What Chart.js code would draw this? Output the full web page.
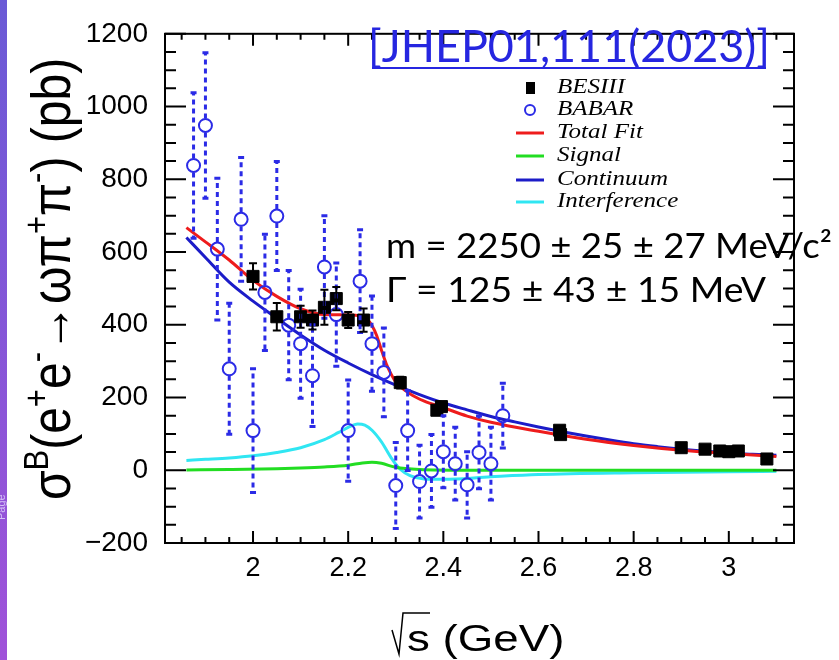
<!DOCTYPE html>
<html>
<head>
<meta charset="utf-8">
<script src="https://cdn.jsdelivr.net/npm/chart.js@4.4.1/dist/chart.umd.min.js"></script>
<style>
  html, body { margin: 0; padding: 0; background: #fff; }
  #wrap { width: 839px; height: 660px; }
</style>
</head>
<body>
<div id="wrap"><canvas id="xsChart" width="839" height="660"></canvas></div>
<script>
// BESIII points (sqrt(s) in GeV, cross section in pb)
const besX = [2.0, 2.05, 2.1, 2.125, 2.15, 2.175, 2.2, 2.2324, 2.3094, 2.3864, 2.396, 2.6444, 2.6464, 2.9, 2.95, 2.981, 3.0, 3.02, 3.08]
const besY = [533, 422, 422, 413, 448, 472, 413, 413, 241, 165, 175, 110, 98, 62, 58, 53, 51, 53, 31]
const besErr = [36, 38, 30, 26, 48, 32, 22, 32, 16, 12, 12, 12, 12, 7, 7, 6, 6, 6, 6]

// BABAR points
const babarX = [1.875, 1.9, 1.925, 1.95, 1.975, 2.0, 2.025, 2.05, 2.075, 2.1, 2.125, 2.15, 2.175, 2.2,
  2.225, 2.25, 2.275, 2.3, 2.325, 2.35, 2.375, 2.4, 2.425, 2.45, 2.475, 2.5, 2.525]
const babarY = [838, 948, 608, 279, 690, 109, 489, 699, 399, 348, 260, 559, 428, 109,
  520, 348, 269, -42, 109, -31, -2, 51, 18, -40, 49, 18, 150]
const babarErr = [200, 200, 195, 180, 170, 170, 160, 150, 150, 150, 140, 141, 142, 139,
  141, 131, 122, 118, 110, 100, 100, 99, 100, 91, 100, 100, 89]

// fit curves
const fitX = [1.86, 1.9, 1.95, 2.0, 2.05, 2.1, 2.15, 2.2, 2.225, 2.24, 2.25, 2.26, 2.27, 2.28, 2.29, 2.3,
  2.33, 2.36, 2.4, 2.45, 2.5, 2.6, 2.7, 2.8, 2.9, 3.0, 3.1]
const totalFit = [667, 628, 578, 522, 478, 444, 428, 427, 424, 415, 398, 370, 330, 293, 265, 243,
  210, 190, 172, 149, 132, 107, 85, 68, 55, 46, 38]

const contX = [1.86, 1.9, 1.95, 2.0, 2.05, 2.1, 2.15, 2.2, 2.25, 2.3, 2.35, 2.4, 2.45, 2.5, 2.55,
  2.6, 2.65, 2.7, 2.75, 2.8, 2.85, 2.9, 2.95, 3.0, 3.05, 3.1]
const continuum = [640, 585, 517, 465, 418, 372, 330, 295, 263, 234, 208, 185, 166, 148, 133,
  119, 106, 94, 83, 73, 65, 58, 52, 47, 44, 41]

const sigX = [1.86, 1.95, 2.05, 2.1, 2.15, 2.2, 2.23, 2.25, 2.27, 2.3, 2.35, 2.45, 2.6, 2.8, 3.1]
const signal = [1, 2, 4, 6, 9, 14, 20, 22, 19, 8, 2, 0, 0, 0, 0]

const intX = [1.86, 1.9, 1.95, 2.0, 2.05, 2.1, 2.15, 2.18, 2.2, 2.22, 2.235, 2.25, 2.27, 2.29, 2.31,
  2.33, 2.36, 2.4, 2.5, 2.6, 2.8, 3.0, 3.1]
const interference = [27, 30, 34, 40, 49, 62, 84, 104, 118, 127, 124, 110, 78, 35, 2,
  -15, -24, -25, -18, -12, -7, -4, -3]

// axis ticks
const xTicks = [2, 2.2, 2.4, 2.6, 2.8, 3]
const yTicks = [-200, 0, 200, 400, 600, 800, 1000, 1200]

function pts(xs, ys) {
  return xs.map((x, i) => ({ x: x, y: ys[i] }))
}

function curve(label, xs, ys, color) {
  return {
    label: label,
    data: pts(xs, ys),
    showLine: true,
    borderColor: color,
    borderWidth: 3,
    pointRadius: 0,
    cubicInterpolationMode: "monotone",
    fill: false,
  }
}

const BLUE_PT = "#2b2be6"

// error bars, frame, ticks and all the text
const decorations = {
  id: "decorations",
  beforeDraw(chart) {
    const ctx = chart.ctx
    ctx.save()
    ctx.fillStyle = "#fff"
    ctx.fillRect(0, 0, chart.width, chart.height)
    const g = ctx.createLinearGradient(0, 0, 0, chart.height)
    g.addColorStop(0, "#6a5ad6")
    g.addColorStop(1, "#a052d9")
    ctx.fillStyle = g
    ctx.fillRect(0, 0, 7, chart.height)
    ctx.translate(5, 520)
    ctx.rotate(-Math.PI / 2)
    ctx.fillStyle = "rgba(230,220,255,0.8)"
    ctx.font = "11px 'Liberation Sans'"
    ctx.fillText("Page", 0, 0)
    ctx.restore()
  },
  afterDatasetsDraw(chart) {
    const ctx = chart.ctx
    const xs = chart.scales.x, ys = chart.scales.y
    ctx.save()
    // BABAR dashed error bars
    ctx.strokeStyle = BLUE_PT
    ctx.lineWidth = 3
    babarX.forEach((v, i) => {
      const px = xs.getPixelForValue(v)
      const py = ys.getPixelForValue(babarY[i])
      const top = ys.getPixelForValue(babarY[i] + babarErr[i])
      const bot = ys.getPixelForValue(babarY[i] - babarErr[i])
      ctx.setLineDash([5, 4])
      ctx.beginPath()
      ctx.moveTo(px, py - 7)
      ctx.lineTo(px, top)
      ctx.moveTo(px, py + 7)
      ctx.lineTo(px, bot)
      ctx.stroke()
      ctx.setLineDash([])
      ctx.beginPath()
      ctx.moveTo(px - 3, top)
      ctx.lineTo(px + 3, top)
      ctx.moveTo(px - 3, bot)
      ctx.lineTo(px + 3, bot)
      ctx.stroke()
    })
    // BESIII error bars
    ctx.strokeStyle = "#000"
    ctx.lineWidth = 2
    besX.forEach((v, i) => {
      const px = xs.getPixelForValue(v)
      const top = ys.getPixelForValue(besY[i] + besErr[i])
      const bot = ys.getPixelForValue(besY[i] - besErr[i])
      ctx.beginPath()
      ctx.moveTo(px, top)
      ctx.lineTo(px, bot)
      ctx.moveTo(px - 4, top)
      ctx.lineTo(px + 4, top)
      ctx.moveTo(px - 4, bot)
      ctx.lineTo(px + 4, bot)
      ctx.stroke()
    })
    ctx.restore()
  },
  afterDraw(chart) {
    const ctx = chart.ctx
    const a = chart.chartArea
    const xs = chart.scales.x, ys = chart.scales.y
    ctx.save()

    // frame
    ctx.strokeStyle = "#000"
    ctx.lineWidth = 2
    ctx.strokeRect(a.left, a.top, a.right - a.left, a.bottom - a.top)

    // inward ticks on all four sides
    ctx.lineWidth = 2
    ctx.beginPath()
    for (let v = -200; v <= 1200; v += 50) {
      const py = ys.getPixelForValue(v)
      const len = v % 200 === 0 ? 21 : 11
      ctx.moveTo(a.left, py); ctx.lineTo(a.left + len, py)
      ctx.moveTo(a.right, py); ctx.lineTo(a.right - len, py)
    }
    for (let k = 37; k <= 62; k++) {
      const v = k * 0.05
      const px = xs.getPixelForValue(v)
      const len = k % 4 === 0 ? 12 : 6
      ctx.moveTo(px, a.bottom); ctx.lineTo(px, a.bottom - len)
      ctx.moveTo(px, a.top); ctx.lineTo(px, a.top + len)
    }
    ctx.stroke()

    // y axis title
    ctx.save()
    ctx.translate(70, 279)
    ctx.rotate(-Math.PI / 2)
    ctx.scale(1, 1.15)
    const big = 48, small = 31
    const parts = [["σ", 0], ["B", 1], ["(e", 0], ["+", 1], ["e", 0], ["-", 1], ["→ωπ", 0], ["+", 1],
      ["π", 0], ["-", 1], [") (pb)", 0]]
    let total = 0
    parts.forEach(p => {
      ctx.font = (p[1] ? small : big) + "px 'Liberation Sans'"
      total += ctx.measureText(p[0]).width
    })
    let cx = -total / 2
    ctx.fillStyle = "#000"
    ctx.textBaseline = "alphabetic"
    parts.forEach(p => {
      ctx.font = (p[1] ? small : big) + "px 'Liberation Sans'"
      ctx.fillText(p[0], cx, p[1] ? -19 : 0)
      cx += ctx.measureText(p[0]).width
    })
    ctx.restore()

    // x axis title with radical sign
    ctx.save()
    ctx.strokeStyle = "#000"
    ctx.lineWidth = 1.5
    ctx.beginPath()
    ctx.moveTo(392, 630)
    ctx.lineTo(399, 654)
    ctx.lineTo(403, 613)
    ctx.lineTo(430, 613)
    ctx.stroke()
    ctx.translate(407, 651)
    ctx.scale(1.27, 1)
    ctx.font = "36px 'Liberation Sans'"
    ctx.fillStyle = "#000"
    ctx.fillText("s (GeV)", 0, 0)
    ctx.restore()

    function fitText(str, x, y, w) {
      const m = ctx.measureText(str).width
      ctx.save()
      ctx.translate(x, y)
      ctx.scale(w / m, 1)
      ctx.fillText(str, 0, 0)
      ctx.restore()
    }

    // reference tag
    ctx.fillStyle = "#2626e0"
    ctx.font = "44px Lato"
    ctx.textBaseline = "alphabetic"
    fitText("[JHEP01,111(2023)]", 368, 62, 402)
    ctx.fillRect(372, 67, 394, 2)

    // fit results
    ctx.fillStyle = "#000"
    ctx.font = "34px Lato"
    fitText("m = 2250 ± 25 ± 27 MeV/c²", 386, 258, 446)
    fitText("Γ = 125 ± 43 ± 15 MeV", 386, 302, 380)

    // legend
    const rowY = [88, 110, 133, 156, 180, 202]
    const ds = chart.data.datasets
    ctx.font = "italic 20px 'Liberation Serif'"
    ctx.textBaseline = "middle"
    ds.forEach((d, r) => {
      const y = rowY[r]
      if (d.showLine) {
        ctx.strokeStyle = d.borderColor
        ctx.lineWidth = 3
        ctx.beginPath()
        ctx.moveTo(516, y)
        ctx.lineTo(544, y)
        ctx.stroke()
      } else if (d.pointStyle === "rect") {
        ctx.fillStyle = "#000"
        ctx.fillRect(526, y - 6, 9, 12)
      } else {
        ctx.strokeStyle = BLUE_PT
        ctx.lineWidth = 2
        ctx.beginPath()
        ctx.arc(530, y, 5, 0, Math.PI * 2)
        ctx.stroke()
      }
      ctx.fillStyle = "#000"
      ctx.save()
      ctx.translate(557, y)
      ctx.scale(1.25, 1)
      ctx.fillText(d.label, 0, 0)
      ctx.restore()
    })
    ctx.restore()
  },
}

new Chart(document.getElementById("xsChart"), {
  type: "scatter",
  data: {
    datasets: [
      {
        label: "BESIII",
        data: pts(besX, besY),
        pointStyle: "rect",
        pointRadius: 8.5,
        pointBackgroundColor: "#000",
        pointBorderColor: "#000",
        pointBorderWidth: 1,
      },
      {
        label: "BABAR",
        data: pts(babarX, babarY),
        pointStyle: "circle",
        pointRadius: 6.5,
        pointBackgroundColor: "rgba(0,0,0,0)",
        pointBorderColor: BLUE_PT,
        pointBorderWidth: 2,
      },
      curve("Total Fit", fitX, totalFit, "#ee1c1c"),
      curve("Signal", sigX, signal, "#22dd22"),
      curve("Continuum", contX, continuum, "#1c1cc8"),
      curve("Interference", intX, interference, "#30e6f2"),
    ],
  },
  options: {
    responsive: false,
    animation: false,
    layout: { padding: { top: 20, right: 45, left: 0, bottom: 0 } },
    plugins: { legend: { display: false }, tooltip: { enabled: false } },
    scales: {
      x: {
        type: "linear",
        min: 1.815,
        max: 3.137,
        grid: { display: false, drawTicks: false },
        border: { display: false },
        afterBuildTicks: (s) => { s.ticks = xTicks.map(v => ({ value: v })) },
        afterFit: (s) => { s.height = 117 },
        ticks: {
          color: "#000",
          padding: 9,
          maxRotation: 0,
          font: { family: "'Liberation Sans'", size: 27 },
          callback: (v) => String(Math.round(v * 10) / 10),
        },
      },
      y: {
        min: -200,
        max: 1200,
        grid: { display: false, drawTicks: false },
        border: { display: false },
        afterBuildTicks: (s) => { s.ticks = yTicks.map(v => ({ value: v })) },
        afterFit: (s) => { s.width = 165 },
        ticks: {
          color: "#000",
          padding: 17,
          font: { family: "'Liberation Sans'", size: 28 },
          callback: (v) => (v < 0 ? "\u2212" + Math.abs(v) : String(v)),
        },
      },
    },
  },
  plugins: [decorations],
})
</script>
</body>
</html>
